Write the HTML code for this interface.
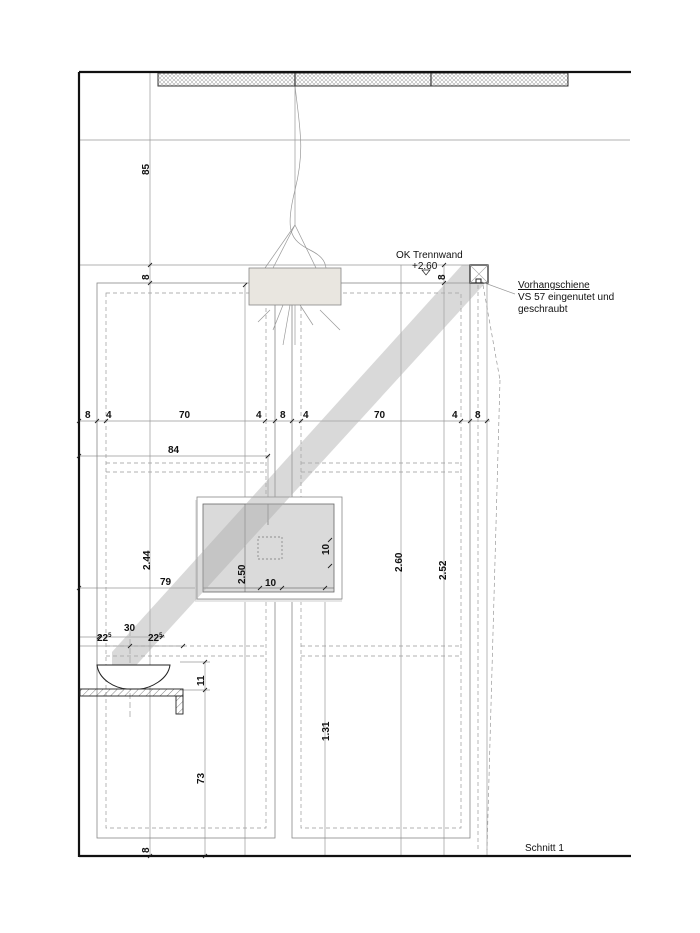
<!DOCTYPE html>
<html><head><meta charset="utf-8"><style>
html,body{margin:0;padding:0;background:#fff}
svg{display:block}
text{font-family:"Liberation Sans",sans-serif;font-size:10px;fill:#111}
.b{font-weight:bold}
</style></head><body>
<svg width="700" height="933" viewBox="0 0 700 933" xmlns="http://www.w3.org/2000/svg">
<defs>
<pattern id="hx" width="4" height="4" patternUnits="userSpaceOnUse"><rect width="4" height="4" fill="#fff"/><circle cx="2" cy="2" r="1.5" fill="none" stroke="#999" stroke-width="0.5"/></pattern>
<pattern id="hatch" width="5" height="5" patternUnits="userSpaceOnUse" patternTransform="rotate(45)"><line x1="0" y1="0" x2="0" y2="5" stroke="#666" stroke-width="0.8"/></pattern>
</defs>
<g stroke="#999" stroke-width="0.7" fill="none">
<line x1="79" y1="140" x2="630" y2="140"/>
<line x1="79" y1="265" x2="470" y2="265"/>
<line x1="79" y1="421" x2="490" y2="421"/>
<line x1="79" y1="456" x2="270" y2="456"/>
<line x1="79" y1="588" x2="330" y2="588"/>
<line x1="79" y1="637" x2="165" y2="637"/>
<line x1="79" y1="646" x2="185" y2="646"/>
<line x1="150" y1="73" x2="150" y2="856"/>
<line x1="205" y1="662" x2="205" y2="856"/>
<line x1="180" y1="662" x2="210" y2="662"/>
<line x1="180" y1="690" x2="210" y2="690"/>
<line x1="245" y1="285" x2="245" y2="856"/>
<line x1="268" y1="456" x2="268" y2="525"/>
<line x1="325" y1="540" x2="325" y2="856"/>
<line x1="296" y1="540" x2="330" y2="540"/>
<line x1="296" y1="566" x2="330" y2="566"/>
<line x1="401" y1="265" x2="401" y2="856"/>
<line x1="444" y1="265" x2="444" y2="856"/>
<line x1="487" y1="283" x2="487" y2="856"/>
<line x1="130" y1="630" x2="130" y2="720" stroke-dasharray="6 3"/>
</g>
<g fill="none" stroke="#888" stroke-width="0.8">
<rect x="97" y="283" width="178" height="555"/>
<rect x="292" y="283" width="178" height="555"/>
</g>
<g fill="none" stroke="#999" stroke-width="0.7" stroke-dasharray="4 3">
<rect x="106" y="293" width="160" height="535"/>
<rect x="301" y="293" width="160" height="535"/>
<line x1="106" y1="463" x2="266" y2="463"/><line x1="106" y1="472" x2="266" y2="472"/>
<line x1="301" y1="463" x2="461" y2="463"/><line x1="301" y1="472" x2="461" y2="472"/>
<line x1="106" y1="646" x2="266" y2="646"/><line x1="106" y1="656" x2="266" y2="656"/>
<line x1="301" y1="646" x2="461" y2="646"/><line x1="301" y1="656" x2="461" y2="656"/>
<line x1="478" y1="285" x2="478" y2="850"/>
<line x1="483" y1="285" x2="500" y2="380"/>
<line x1="500" y1="380" x2="487" y2="850"/>
</g>
<g stroke="#999" stroke-width="0.7" fill="none">
<path d="M295 86 C300 130 305 150 295 190 C285 230 290 240 310 250 C320 255 325 260 326 268"/>
<line x1="295" y1="86" x2="295" y2="225"/>
<line x1="295" y1="225" x2="265" y2="268"/><line x1="295" y1="225" x2="273" y2="268"/><line x1="295" y1="225" x2="316" y2="268"/>
<line x1="295" y1="305" x2="295" y2="345"/>
<line x1="290" y1="305" x2="283" y2="345"/><line x1="300" y1="305" x2="313" y2="325"/>
<line x1="270" y1="310" x2="258" y2="322"/><line x1="283" y1="305" x2="273" y2="330"/>
<line x1="320" y1="310" x2="340" y2="330"/>
</g>
<rect x="249" y="268" width="92" height="37" fill="#e9e6e0" stroke="#888" stroke-width="0.8"/>
<rect x="195" y="500" width="147" height="102" fill="#e6e6e6"/>
<rect x="197" y="497" width="145" height="102" fill="#fff" stroke="#888" stroke-width="0.8"/>
<rect x="203" y="504" width="131" height="88" fill="#dadada" stroke="#666" stroke-width="0.8"/>
<rect x="258" y="537" width="24" height="22" fill="none" stroke="#777" stroke-width="0.7" stroke-dasharray="2 2"/>
<line x1="268" y1="504" x2="268" y2="525" stroke="#777" stroke-width="0.7"/>
<line x1="245" y1="504" x2="245" y2="592" stroke="#777" stroke-width="0.7"/>
<line x1="203" y1="588" x2="334" y2="588" stroke="#777" stroke-width="0.7"/>
<polygon points="462,265 488,265 488,280 130,672 112,672 112,652" fill="#aaa" opacity="0.45"/>
<rect x="158" y="73" width="410" height="13" fill="url(#hx)" stroke="#333" stroke-width="1"/>
<line x1="295" y1="73" x2="295" y2="86" stroke="#333" stroke-width="1.2"/>
<line x1="431" y1="73" x2="431" y2="86" stroke="#333" stroke-width="1.2"/>
<g stroke="#111" stroke-width="2.2" fill="none">
<line x1="79" y1="72" x2="631" y2="72"/>
<line x1="79" y1="72" x2="79" y2="857"/>
<line x1="79" y1="856" x2="631" y2="856"/>
</g>
<rect x="470" y="265" width="18" height="18" fill="#fff" stroke="#222" stroke-width="1.2"/>
<line x1="470" y1="265" x2="488" y2="283" stroke="#aaa" stroke-width="0.6"/>
<line x1="488" y1="265" x2="470" y2="283" stroke="#aaa" stroke-width="0.6"/>
<path d="M476 283 v-4 h5 v4" fill="none" stroke="#222"/>
<line x1="482" y1="282" x2="515" y2="294" stroke="#999" stroke-width="0.7"/>
<path d="M97 665 H170 C168 680 150 688 140 689 H127 C115 688 99 680 97 665 Z" fill="#fff" stroke="#222" stroke-width="1"/>
<rect x="80" y="689" width="103" height="7" fill="url(#hatch)" stroke="#222" stroke-width="0.9"/>
<rect x="176" y="696" width="7" height="18" fill="url(#hatch)" stroke="#222" stroke-width="0.9"/>
<g stroke="#222" stroke-width="0.9">
<path d="M77 423l4-4M95 423l4-4M104 423l4-4M263 423l4-4M273 423l4-4M290 423l4-4M299 423l4-4M459 423l4-4M468 423l4-4M485 423l4-4"/>
<path d="M148 267l4-4M148 285l4-4M243 287l4-4M442 285l4-4M442 267l4-4M148 858l4-4M203 858l4-4M77 458l4-4M266 458l4-4M77 590l4-4M323 590l4-4M328 542l4-4M328 568l4-4M258 590l4-4M280 590l4-4M203 664l4-4M203 692l4-4M97 639l4-4M160 639l4-4M128 648l4-4M181 648l4-4"/>
</g>
<g class="b">
<text x="85" y="418">8</text><text x="106" y="418">4</text><text x="179" y="418">70</text><text x="256" y="418">4</text><text x="280" y="418">8</text><text x="303" y="418">4</text><text x="374" y="418">70</text><text x="452" y="418">4</text><text x="475" y="418">8</text>
<text x="168" y="453">84</text><text x="160" y="585">79</text>
<text x="124" y="631">30</text>
<text x="97" y="641">22<tspan font-size="6" dy="-4">5</tspan></text>
<text x="148" y="641">22<tspan font-size="6" dy="-4">5</tspan></text>
<text x="265" y="586">10</text>
<text transform="translate(149,175) rotate(-90)">85</text>
<text transform="translate(149,280) rotate(-90)">8</text>
<text transform="translate(445,280) rotate(-90)">8</text>
<text transform="translate(149,853) rotate(-90)">8</text>
<text transform="translate(150,570) rotate(-90)">2.44</text>
<text transform="translate(245,584) rotate(-90)">2.50</text>
<text transform="translate(329,555) rotate(-90)">10</text>
<text transform="translate(402,572) rotate(-90)">2.60</text>
<text transform="translate(446,580) rotate(-90)">2.52</text>
<text transform="translate(204,686) rotate(-90)">11</text>
<text transform="translate(204,784) rotate(-90)">73</text>
<text transform="translate(329,741) rotate(-90)">1.31</text>
</g>
<text x="396" y="258" font-size="9.5">OK Trennwand</text>
<text x="412" y="269" font-size="9.5">+2.60</text>
<path d="M422 270 l4 5 l4 -5 z" fill="none" stroke="#222" stroke-width="0.7"/>
<text x="518" y="288" font-size="9" text-decoration="underline">Vorhangschiene</text>
<text x="518" y="300" font-size="9">VS 57 eingenutet und</text>
<text x="518" y="312" font-size="9">geschraubt</text>
<text x="525" y="851" font-size="9">Schnitt 1</text>
</svg>
</body></html>
